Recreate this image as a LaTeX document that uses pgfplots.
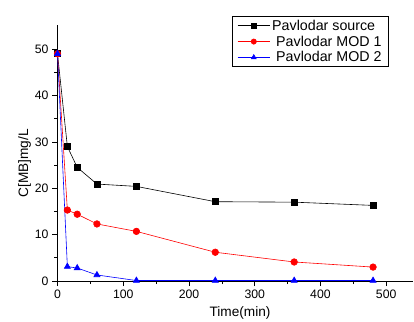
\documentclass[border=0pt]{standalone}
\usepackage{pgfplots}
\pgfplotsset{compat=1.18}
\usepackage{fontspec}
\setmainfont{Liberation Sans}
\begin{document}
\begin{tikzpicture}
\useasboundingbox (-57.5bp,-41bp) rectangle (356.5bp,281bp);
\begin{axis}[
  at={(0,0)}, anchor=origin,
  scale only axis, width=355bp, height=256bp,
  xmin=0, xmax=540, ymin=0, ymax=55.2,
  axis lines=left, axis line style={-, line width=0.8pt},
  xtick={0,100,...,500}, ytick={0,10,...,50},
  minor xtick={50,150,...,450}, minor ytick={5,15,...,45},
  tick align=outside, major tick length=5bp, minor tick length=3bp,
  tick style={black, line width=0.7pt},
  /pgf/number format/assume math mode=true,
  ticklabel style={font=\fontsize{12.3}{13}\selectfont},
  xticklabel style={yshift=-0.5bp},
  yticklabel style={xshift=-0.5bp},
  xlabel={Time(min)}, ylabel={C[MB]mg/L},
  label style={font=\fontsize{13.7}{15}\selectfont},
  xlabel style={at={(rel axis cs:0.514,0)}, anchor=center, yshift=-32bp},
  ylabel style={at={(rel axis cs:0,0.46)}, anchor=center, yshift=33bp},
  legend style={at={(rel axis cs:0.932,1.035)}, anchor=north east, draw=black, line width=0.7pt,
    font=\fontsize{14.3}{15}\selectfont, row sep=0pt, inner xsep=4.5pt, inner ysep=1.5pt},
  legend image code/.code={\draw[mark repeat=2,mark phase=2,every mark/.append style={scale=0.8}] plot coordinates {(0cm,0cm) (0.57cm,0cm) (1.14cm,0cm)};},
  legend cell align=left,
  clip=false,
]
\addplot[black, line width=0.6pt, mark=square*, mark size=3bp] coordinates {
(0,49) (15,29) (30,24.5) (60,20.9) (120,20.4) (240,17.1) (360,17) (480,16.3)};
\addlegendentry{Pavlodar source}
\addplot[red, line width=0.6pt, mark=*, mark size=3.3bp] coordinates {
(0,49) (15,15.3) (30,14.4) (60,12.3) (120,10.7) (240,6.2) (360,4.1) (480,3)};
\addlegendentry{\hspace{4bp}Pavlodar MOD 1}
\addplot[blue, line width=0.6pt, mark=triangle*, mark size=3.5bp] coordinates {
(0,49) (15,3.1) (30,2.8) (60,1.3) (120,0.1) (240,0.1) (360,0.1) (480,0.1)};
\addlegendentry{\hspace{4bp}Pavlodar MOD 2}
\end{axis}
\end{tikzpicture}
\end{document}
